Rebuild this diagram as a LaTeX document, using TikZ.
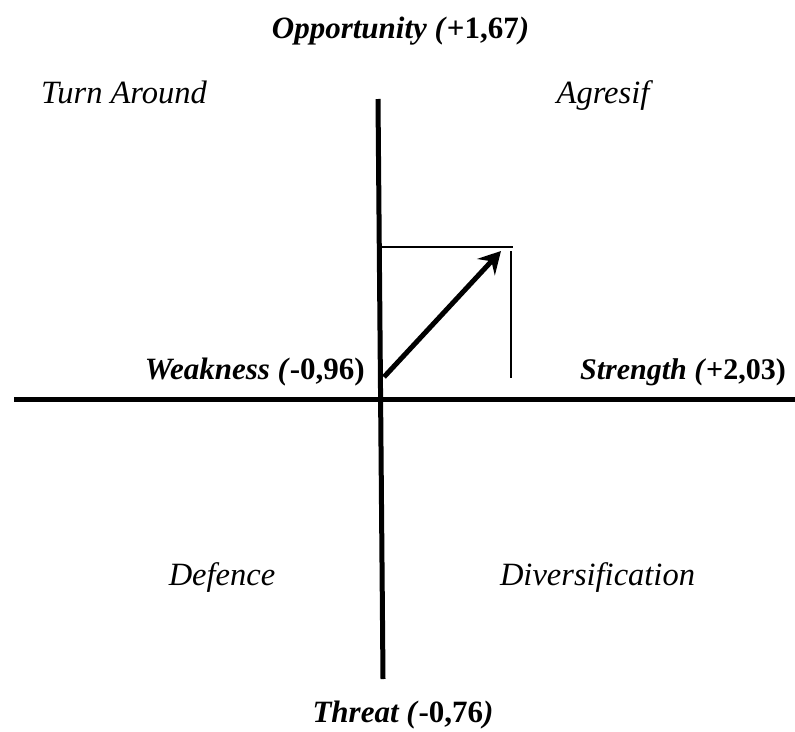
\documentclass[tikz,border=0pt]{standalone}
\usepackage{fontspec}
\setmainfont{Liberation Serif}
\usetikzlibrary{arrows.meta}
\begin{document}
\begin{tikzpicture}[x=1pt,y=-1pt,
  boldlbl/.style={inner sep=0pt,font=\fontsize{31}{37}\selectfont\bfseries},
  quadlbl/.style={inner sep=0pt,font=\fontsize{32.5}{39}\selectfont\itshape},
  axis/.style={line width=5pt},
  thin/.style={line width=1.5pt}]
\useasboundingbox (0,0) rectangle (795,731);
% axes
\coordinate (vtop) at (378,99);
\coordinate (vbot) at (383,679);
\coordinate (hleft) at (14,399);
\coordinate (hright) at (795,399);
\draw[axis] (vtop) -- (vbot);
\draw[axis] (hleft) -- (hright);
% thin box
\coordinate (boxtl) at (381,247);
\coordinate (boxtr) at (513,247);
\coordinate (boxrt) at (511,251);
\coordinate (boxrb) at (511,378);
\draw[thin] (boxtl) -- (boxtr);
\draw[thin] (boxrt) -- (boxrb);
% arrow
\coordinate (astart) at (384,377);
\coordinate (aend) at (501,251);
\draw[line width=5pt,-{Stealth[length=22pt,width=24pt,inset=8pt]}] (astart) -- (aend);
% labels
\node[boldlbl,anchor=base] (opp) at (400.5,38) {\textit{Opportunity (}+1,67\textit{)}};
\node[boldlbl,anchor=base] (thr) at (403,722) {\textit{Threat (}-0,76\textit{)}};
\node[boldlbl,anchor=base east] (weak) at (365,379) {\textit{Weakness (}-0,96)};
\node[boldlbl,anchor=base west,font=\fontsize{30}{36}\selectfont\bfseries] (str) at (580,379) {\textit{Strength (}+2,03)};
\node[quadlbl,anchor=base] (ta) at (124,103) {Turn Around};
\node[quadlbl,anchor=base] (ag) at (603,103) {Agresif};
\node[quadlbl,anchor=base] (df) at (222,585) {Defence};
\node[quadlbl,anchor=base] (dv) at (597.5,585) {Diversification};
\end{tikzpicture}
\end{document}
